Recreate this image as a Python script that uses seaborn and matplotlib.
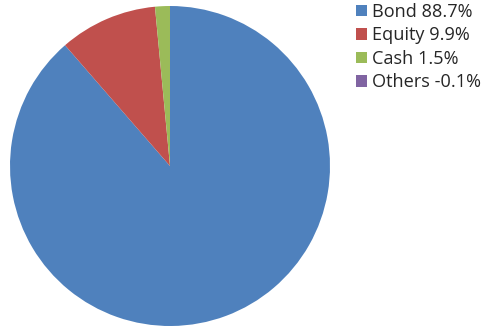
import matplotlib
matplotlib.use("Agg")
import matplotlib.pyplot as plt
from matplotlib.patches import Patch
import seaborn as sns

# Asset allocation
categories = ["Bond", "Equity", "Cash", "Others"]
weights = [88.7, 9.9, 1.5, -0.1]
labels = [f"{c} {w:.1f}%" for c, w in zip(categories, weights)]

sns.set_style("white")
plt.rcParams["font.family"] = ["Open Sans", "DejaVu Sans"]
colors = sns.color_palette(["#4F81BD", "#C0504D", "#9BBB59", "#8064A2"])

W, H = 483, 326
fig = plt.figure(figsize=(W / 100, H / 100), dpi=100)
cx, cy, r = 170, 166, 160
ax = fig.add_axes([(cx - r) / W, (H - cy - r) / H, 2 * r / W, 2 * r / H])

# negative weights cannot be drawn as a slice
sizes = [max(w, 0) for w in weights]
ax.pie(sizes, colors=colors, startangle=90, counterclock=False,
       radius=1, wedgeprops=dict(linewidth=0))
ax.set_xlim(-1, 1)
ax.set_ylim(-1, 1)
ax.set_aspect("equal")
ax.axis("off")

handles = [Patch(facecolor=c, edgecolor="none") for c in colors]
fig.legend(handles, labels, loc="upper left",
           bbox_to_anchor=(356 / W, 1 - 3 / H), frameon=False,
           fontsize=13.1, handlelength=0.62, handleheight=0.62,
           handletextpad=0.28, labelspacing=0.3, borderaxespad=0,
           borderpad=0)

fig.savefig("out.png", dpi=100)
